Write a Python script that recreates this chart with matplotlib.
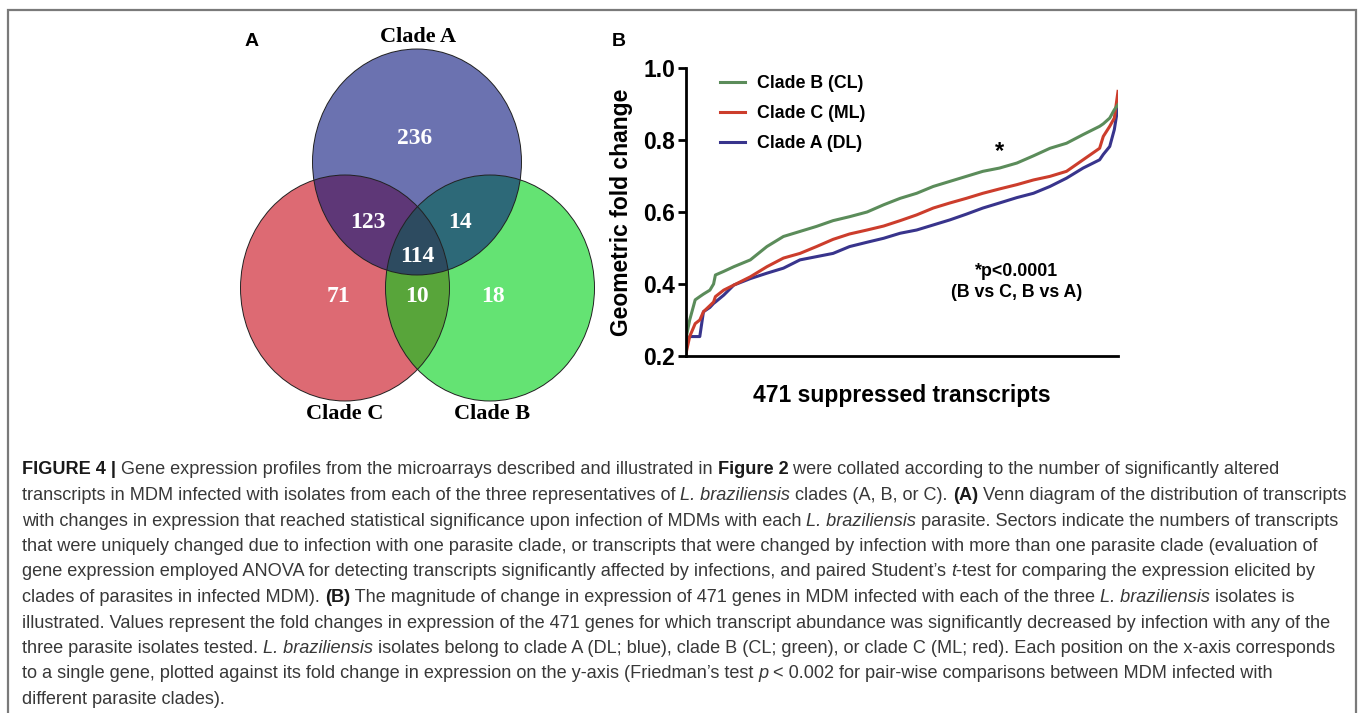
import numpy as np
import matplotlib
matplotlib.use("Agg")
import matplotlib.pyplot as plt
from matplotlib.colors import ListedColormap
from matplotlib.patches import Ellipse

# ---- panel A: venn counts
venn_sets = ["Clade A", "Clade C", "Clade B"]
venn_counts = {"A": 236, "AC": 123, "AB": 14, "ABC": 114, "C": 71, "BC": 10, "B": 18}

# ---- panel B: geometric fold change, sorted, sampled at these ranks
ranks = [1, 5, 11, 16, 20, 27, 31, 33, 42, 53, 71, 89, 107, 125, 143, 161, 179, 198,
         216, 234, 252, 270, 288, 306, 324, 342, 361, 379, 397, 415, 433, 451, 455,
         462, 467, 471]
clade_b = [0.249, 0.300, 0.356, 0.365, 0.372, 0.383, 0.400, 0.425, 0.435, 0.448, 0.467,
           0.504, 0.532, 0.546, 0.560, 0.576, 0.587, 0.600, 0.620, 0.638, 0.652, 0.671,
           0.685, 0.699, 0.713, 0.722, 0.736, 0.756, 0.777, 0.791, 0.815, 0.838, 0.845,
           0.861, 0.884, 0.898]
clade_c = [0.207, 0.254, 0.290, 0.300, 0.323, 0.340, 0.350, 0.365, 0.383, 0.397, 0.420,
           0.448, 0.472, 0.485, 0.504, 0.524, 0.539, 0.550, 0.561, 0.576, 0.592, 0.611,
           0.625, 0.638, 0.652, 0.664, 0.676, 0.689, 0.699, 0.713, 0.745, 0.777, 0.810,
           0.838, 0.861, 0.935]
clade_a = [0.240, 0.254, 0.254, 0.254, 0.323, 0.335, 0.346, 0.350, 0.369, 0.397, 0.415,
           0.430, 0.444, 0.467, 0.476, 0.485, 0.504, 0.516, 0.527, 0.541, 0.550, 0.564,
           0.578, 0.594, 0.611, 0.625, 0.640, 0.652, 0.671, 0.694, 0.722, 0.745, 0.760,
           0.782, 0.829, 0.893]
series_labels = ["Clade B (CL)", "Clade C (ML)", "Clade A (DL)"]
series_colors = ["#5b8c5a", "#cc3d2c", "#38348c"]

caption = [
    [("FIGURE 4 | ", "b"), ("Gene expression profiles from the microarrays described and illustrated in ", ""),
     ("Figure 2", "b"), (" were collated according to the number of significantly altered", "")],
    [("transcripts in MDM infected with isolates from each of the three representatives of ", ""),
     ("L. braziliensis", "i"), (" clades (A, B, or C). ", ""), ("(A)", "b"),
     (" Venn diagram of the distribution of transcripts", "")],
    [("with changes in expression that reached statistical significance upon infection of MDMs with each ", ""),
     ("L. braziliensis", "i"), (" parasite. Sectors indicate the numbers of transcripts", "")],
    [("that were uniquely changed due to infection with one parasite clade, or transcripts that were changed by infection with more than one parasite clade (evaluation of", "")],
    [("gene expression employed ANOVA for detecting transcripts significantly affected by infections, and paired Student\u2019s ", ""),
     ("t", "i"), ("-test for comparing the expression elicited by", "")],
    [("clades of parasites in infected MDM). ", ""), ("(B)", "b"),
     (" The magnitude of change in expression of 471 genes in MDM infected with each of the three ", ""),
     ("L. braziliensis", "i"), (" isolates is", "")],
    [("illustrated. Values represent the fold changes in expression of the 471 genes for which transcript abundance was significantly decreased by infection with any of the", "")],
    [("three parasite isolates tested. ", ""), ("L. braziliensis", "i"),
     (" isolates belong to clade A (DL; blue), clade B (CL; green), or clade C (ML; red). Each position on the x-axis corresponds", "")],
    [("to a single gene, plotted against its fold change in expression on the y-axis (Friedman\u2019s test ", ""),
     ("p", "i"), (" < 0.002 for pair-wise comparisons between MDM infected with", "")],
    [("different parasite clades).", "")],
]

W, H = 1360, 713
fig = plt.figure(figsize=(W / 100, H / 100), dpi=100)
bg = fig.add_axes([0, 0, 1, 1])
bg.set_xlim(0, W)
bg.set_ylim(H, 0)
bg.axis("off")

# frame
bg.plot([8, 8, 1356, 1356], [H, 10, 10, H], color="#7a7a7a", lw=1.6, solid_joinstyle="miter")

# ---- venn (pixel space)
ew, eh = 209, 226
centers = {"A": (417, 162), "C": (345, 288), "B": (490, 288)}
xs = np.arange(225, 605, 0.25)
ys = np.arange(40, 410, 0.25)
X, Y = np.meshgrid(xs, ys)
def inside(c):
    return ((X - c[0]) / (ew / 2)) ** 2 + ((Y - c[1]) / (eh / 2)) ** 2 <= 1
code = inside(centers["A"]) * 1 + inside(centers["B"]) * 2 + inside(centers["C"]) * 4
region_cols = ["#ffffff", "#6b72b0", "#64e373", "#2d6978", "#dd6a73", "#5e3777", "#58a53a", "#2d4b60"]
img = np.ma.masked_where(code == 0, code)
bg.imshow(img, cmap=ListedColormap(region_cols), vmin=-0.5, vmax=7.5, interpolation="nearest",
          extent=[xs[0], xs[-1], ys[-1], ys[0]], aspect="auto", zorder=1)
for k in ["A", "B", "C"]:
    bg.add_patch(Ellipse(centers[k], ew, eh, fill=False, ec="#222222", lw=0.7, zorder=2))
bg.set_xlim(0, W)
bg.set_ylim(H, 0)

num_font = dict(family="Liberation Serif", weight="bold", color="white", fontsize=17,
                ha="center", va="center", zorder=3)
num_pos = {"A": (415, 138), "AC": (368, 222), "AB": (460, 222), "ABC": (417, 256),
           "C": (338, 296), "BC": (417, 296), "B": (493, 296)}
for k, v in venn_counts.items():
    bg.text(num_pos[k][0], num_pos[k][1], str(v), **num_font)

lab_font = dict(family="Liberation Serif", weight="bold", color="black", fontsize=16,
                ha="center", va="center")
bg.text(418, 37, venn_sets[0], **lab_font)
bg.text(345, 414, venn_sets[1], **lab_font)
bg.text(492, 414, venn_sets[2], **lab_font)

bg.text(252, 42, "A", family="Liberation Sans", weight="bold", fontsize=14, ha="center", va="center")
bg.text(619, 42, "B", family="Liberation Sans", weight="bold", fontsize=14, ha="center", va="center")

# ---- panel B
ax = fig.add_axes([686 / W, 1 - 356 / H, (1118 - 686) / W, (356 - 68) / H])
lines = {}
for vals, lab, col in [(clade_a, series_labels[2], series_colors[2]),
                       (clade_c, series_labels[1], series_colors[1]),
                       (clade_b, series_labels[0], series_colors[0])]:
    lines[lab], = ax.plot(ranks, vals, color=col, lw=2.2, label=lab)
ax.set_xlim(1, 471)
ax.set_ylim(0.2, 1.0)
ax.set_yticks([0.2, 0.4, 0.6, 0.8, 1.0])
ax.set_yticklabels(["0.2", "0.4", "0.6", "0.8", "1.0"])
ax.set_xticks([])
for s in ["top", "right"]:
    ax.spines[s].set_visible(False)
for s in ["left", "bottom"]:
    ax.spines[s].set_linewidth(2.0)
ax.tick_params(axis="y", length=6, width=2.0, pad=2)
for t in ax.get_yticklabels():
    t.set_fontfamily("Liberation Sans")
    t.set_fontweight("bold")
    t.set_fontsize(16.5)
ax.set_ylabel("Geometric fold change", family="Liberation Sans", weight="bold", fontsize=16.5, labelpad=7)
ax.set_xlabel("471 suppressed transcripts", family="Liberation Sans", weight="bold", fontsize=16.5, labelpad=20)

leg = ax.legend([lines[l] for l in series_labels], series_labels, loc="upper left",
                bbox_to_anchor=(0.078, 0.975), frameon=False, borderpad=0, borderaxespad=0,
                handlelength=1.4, handletextpad=0.7, labelspacing=0.72,
                prop=dict(family="Liberation Sans", weight="bold", size=12.8))

ax.text(342, 0.768, "*", family="Liberation Sans", weight="bold", fontsize=17, ha="center", va="center")
ax.text(0.766, 0.256, "*p<0.0001\n(B vs C, B vs A)", transform=ax.transAxes, family="Liberation Sans",
        weight="bold", fontsize=12.8, ha="center", va="center", linespacing=1.3)

# ---- caption, segment by segment
cap_family = ["Liberation Sans", "DejaVu Sans"]
cap_size = 13.05
renderer = fig.canvas.get_renderer()
line_y = [470, 495.5, 521, 546.5, 572, 597.5, 623, 648.5, 674, 699.5]
for segs, yy in zip(caption, line_y):
    x = 22
    for txt, sty in segs:
        t = bg.text(x, yy, txt, family=cap_family, fontsize=cap_size, va="center", ha="left",
                    color="#1a1a1a" if sty == "b" else "#383838",
                    weight="bold" if sty == "b" else "normal",
                    style="italic" if sty == "i" else "normal")
        bb = t.get_window_extent(renderer=renderer)
        x += bb.width

fig.savefig("out.png", dpi=100)
